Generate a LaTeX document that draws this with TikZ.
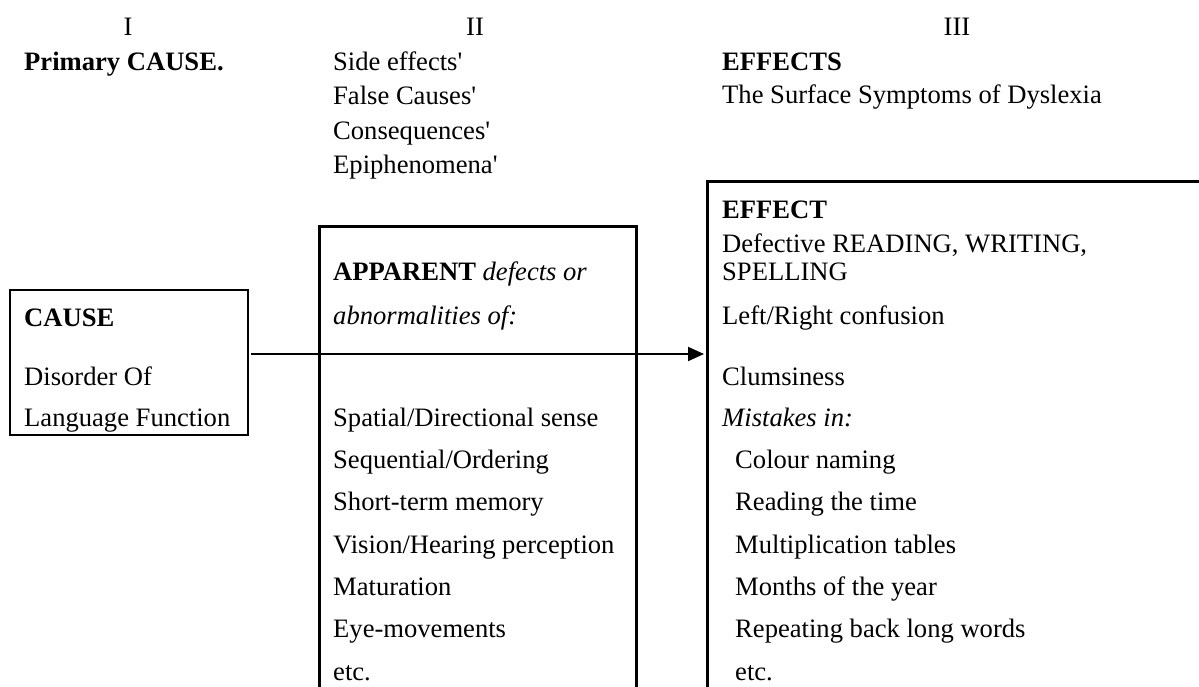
\documentclass[tikz,border=0pt]{standalone}
\usepackage{fontspec}
\setmainfont{Liberation Serif}
\newfontfamily\plainserif{Liberation Serif}
\usetikzlibrary{arrows.meta}
\begin{document}
\begin{tikzpicture}[x=1pt,y=-1pt,
  txt/.style={anchor=base west,inner sep=0pt,font=\fontsize{26.6}{32}\selectfont},
  hdr/.style={anchor=base,inner sep=0pt,font=\fontsize{26.6}{32}\selectfont},
  thinbox/.style={draw,line width=2pt,inner sep=0pt,anchor=north west},
  thickbox/.style={draw,line width=2.7pt,inner sep=0pt,anchor=north west},
  conn/.style={line width=2pt,-{Triangle[length=16pt,width=14pt]},shorten >=2pt,shorten <=2pt}]
\useasboundingbox (0,0) rectangle (1199,686);
\clip (0,0) rectangle (1199,686);
% column headers
\node[hdr] (h1) at (128,35) {I};
\node[hdr] (h2) at (475,35) {II};
\node[hdr] (h3) at (957,35) {III};
\node[txt] (p1) at (24,70) {\textbf{Primary CAUSE.}};
\node[txt] (s1) at (333,70) {\plainserif Side effects'};
\node[txt] (s2) at (333,104.5) {\plainserif False Causes'};
\node[txt] (s3) at (333,139) {\plainserif Consequences'};
\node[txt] (s4) at (333,173) {\plainserif Epiphenomena'};
\node[txt] (e1) at (722,70) {\textbf{EFFECTS}};
\node[txt] (e2) at (722,103.5) {The Surface Symptoms of Dyslexia};
% boxes
\node[thinbox,minimum width=238,minimum height=145] (cause) at (9,289) {};
\node[thickbox,minimum width=317,minimum height=520] (apparent) at (318,225) {};
\node[thickbox,minimum width=560,minimum height=560] (effect) at (706,180) {};
% column I box text
\node[txt] (c1) at (24,326) {\textbf{CAUSE}};
\node[txt] (c2) at (24,385) {Disorder Of};
\node[txt] (c3) at (24,426) {Language Function};
% column II box text
\node[txt] (a1) at (333,280) {\textbf{APPARENT} \textit{defects or}};
\node[txt] (a2) at (333,324) {\textit{abnormalities of:}};
\node[txt] (a3) at (333,426) {Spatial/Directional sense};
\node[txt] (a4) at (333,468.3) {Sequential/Ordering};
\node[txt] (a5) at (333,510.7) {Short-term memory};
\node[txt] (a6) at (333,553) {Vision/Hearing perception};
\node[txt] (a7) at (333,595.3) {Maturation};
\node[txt] (a8) at (333,637.7) {Eye-movements};
\node[txt] (a9) at (333,680) {etc.};
% column III box text
\node[txt] (f1) at (722,218) {\textbf{EFFECT}};
\node[txt] (f2) at (722,252) {Defective READING, WRITING,};
\node[txt] (f3) at (722,280) {SPELLING};
\node[txt] (f4) at (722,324) {Left/Right confusion};
\node[txt] (f5) at (722,385) {Clumsiness};
\node[txt] (f6) at (722,426) {\textit{Mistakes in:}};
\node[txt] (f7) at (735,468.3) {Colour naming};
\node[txt] (f8) at (735,510.7) {Reading the time};
\node[txt] (f9) at (735,553) {Multiplication tables};
\node[txt] (f10) at (735,595.3) {Months of the year};
\node[txt] (f11) at (735,637.7) {Repeating back long words};
\node[txt] (f12) at (735,680) {etc.};
% connector
\coordinate (ay) at (0,354);
\draw[conn] (cause.east |- ay) -- (effect.west |- ay);
\end{tikzpicture}
\end{document}
